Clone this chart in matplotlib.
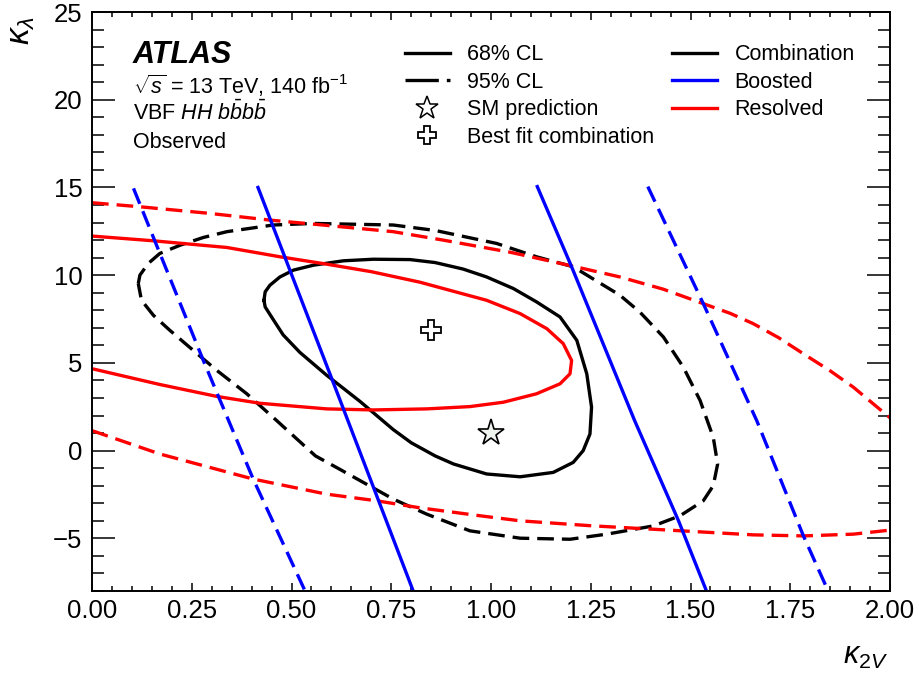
import matplotlib
matplotlib.use("Agg")
import matplotlib.pyplot as plt
from matplotlib.lines import Line2D
from matplotlib.ticker import MultipleLocator, FormatStrFormatter

plt.rcParams['font.family'] = ['Liberation Sans', 'DejaVu Sans']
plt.rcParams['mathtext.fontset'] = 'custom'
plt.rcParams['mathtext.rm'] = 'Liberation Sans'
plt.rcParams['mathtext.it'] = 'Liberation Sans:italic'
plt.rcParams['mathtext.bf'] = 'Liberation Sans:bold'

# combination 68% CL (closed contour)
comb68_k2v = [0.431, 0.434, 0.446, 0.471, 0.505, 0.555, 0.630, 0.705, 0.797, 0.860, 0.930, 0.989,
              1.056, 1.114, 1.173, 1.215, 1.240, 1.252, 1.248, 1.231, 1.206, 1.156, 1.073, 0.989,
              0.906, 0.860, 0.800, 0.755, 0.672, 0.588, 0.521, 0.479, 0.450, 0.434, 0.431]
comb68_kl = [8.57, 9.05, 9.43, 9.90, 10.29, 10.57, 10.82, 10.91, 10.89, 10.72, 10.35, 9.90,
             9.24, 8.48, 7.62, 6.29, 4.38, 2.48, 0.95, 0.00, -0.67, -1.24, -1.49, -1.33,
             -0.76, -0.30, 0.45, 1.20, 2.80, 4.30, 5.60, 6.60, 7.62, 8.19, 8.57]

# combination 95% CL (closed contour)
comb95_k2v = [0.116, 0.120, 0.141, 0.170, 0.221, 0.279, 0.338, 0.454, 0.555, 0.755, 0.860, 1.014,
              1.114, 1.206, 1.323, 1.373, 1.432, 1.482, 1.524, 1.557, 1.568, 1.557, 1.532, 1.474,
              1.407, 1.290, 1.198, 1.073, 0.947, 0.839, 0.755, 0.672, 0.620, 0.560, 0.463, 0.388,
              0.313, 0.254, 0.195, 0.154, 0.124, 0.116]
comb95_kl = [9.52, 10.00, 10.67, 11.24, 11.71, 12.15, 12.48, 12.86, 12.95, 12.86, 12.55, 11.81,
             11.05, 10.48, 8.86, 7.90, 6.48, 4.76, 2.86, 0.76, -0.76, -2.00, -2.86, -3.71,
             -4.29, -4.76, -5.05, -4.99, -4.57, -3.62, -2.76, -1.71, -1.05, -0.30, 1.71, 3.24,
             4.57, 5.71, 6.86, 7.71, 8.57, 9.52]

# resolved 68% CL (open at the left edge)
res68_k2v = [0.0, 0.154, 0.338, 0.471, 0.588, 0.700, 0.822, 0.989, 1.073, 1.140, 1.181, 1.202,
             1.198, 1.173, 1.114, 1.031, 0.947, 0.839, 0.705, 0.588, 0.421, 0.313, 0.170, 0.0]
res68_kl = [12.23, 11.96, 11.58, 11.05, 10.63, 10.20, 9.60, 8.57, 7.81, 6.95, 6.10, 5.14,
            4.38, 3.81, 3.24, 2.76, 2.51, 2.38, 2.32, 2.38, 2.70, 3.09, 3.77, 4.67]

# resolved 95% CL (two branches crossing the frame)
res95_up_k2v = [0.0, 0.120, 0.296, 0.446, 0.555, 0.755, 0.880, 1.050, 1.206, 1.323, 1.432, 1.532,
                1.600, 1.657, 1.720, 1.783, 1.850, 1.908, 2.0]
res95_up_kl = [14.13, 13.90, 13.52, 13.14, 12.91, 12.48, 12.00, 11.30, 10.51, 9.90, 9.20, 8.38,
               7.82, 7.24, 6.45, 5.52, 4.55, 3.62, 1.87]
res95_lo_k2v = [0.0, 0.170, 0.404, 0.588, 0.714, 0.822, 0.972, 1.073, 1.250, 1.407, 1.657, 1.783,
                1.908, 2.0]
res95_lo_kl = [1.14, -0.19, -1.62, -2.48, -2.86, -3.26, -3.71, -4.00, -4.28, -4.48, -4.80, -4.86,
               -4.76, -4.53]

# boosted 68% CL
boo68_l_k2v = [0.416, 0.622, 0.805]
boo68_l_kl = [15.0, 2.86, -8.0]
boo68_r_k2v = [1.116, 1.202, 1.360, 1.470, 1.540]
boo68_r_kl = [15.05, 10.48, 1.71, -4.00, -8.0]

# boosted 95% CL
boo95_l_k2v = [0.104, 0.279, 0.404, 0.534]
boo95_l_kl = [14.95, 5.14, -1.62, -8.0]
boo95_r_k2v = [1.393, 1.532, 1.666, 1.783, 1.845]
boo95_r_kl = [15.05, 8.38, 1.71, -4.86, -8.0]

sm_point = (1.0, 1.0)
best_fit = (0.85, 6.9)

fig = plt.figure(figsize=(9.2, 6.79), dpi=100)
ax = fig.add_axes([0.1, 0.1296, 0.8674, 0.8527])

lw = 2.4
dash = (5, 2.4)
ax.plot(comb68_k2v, comb68_kl, color='black', lw=lw, solid_joinstyle='round')
ax.plot(comb95_k2v, comb95_kl, color='black', lw=lw, dashes=dash)
ax.plot(res68_k2v, res68_kl, color='#ff0000', lw=lw, solid_joinstyle='round')
ax.plot(res95_up_k2v, res95_up_kl, color='#ff0000', lw=lw, dashes=dash)
ax.plot(res95_lo_k2v, res95_lo_kl, color='#ff0000', lw=lw, dashes=dash)
ax.plot(boo68_l_k2v, boo68_l_kl, color='#0000ff', lw=lw)
ax.plot(boo68_r_k2v, boo68_r_kl, color='#0000ff', lw=lw)
ax.plot(boo95_l_k2v, boo95_l_kl, color='#0000ff', lw=lw, dashes=dash)
ax.plot(boo95_r_k2v, boo95_r_kl, color='#0000ff', lw=lw, dashes=dash)

ax.plot(*sm_point, marker='*', ms=20, mfc='#eef3ee', mec='black', mew=1.2, ls='none')
ax.plot(*best_fit, marker='P', ms=14, mfc='white', mec='black', mew=1.3, ls='none')

ax.set_xlim(0, 2)
ax.set_ylim(-8, 25)
ax.xaxis.set_major_locator(MultipleLocator(0.25))
ax.xaxis.set_minor_locator(MultipleLocator(0.05))
ax.yaxis.set_major_locator(MultipleLocator(5))
ax.yaxis.set_minor_locator(MultipleLocator(1))
ax.xaxis.set_major_formatter(FormatStrFormatter('%.2f'))
ax.tick_params(axis='both', which='both', direction='in', top=True, right=True,
               labelsize=18.5, width=1.1)
ax.tick_params(axis='x', which='major', length=6, pad=6)
ax.tick_params(axis='x', which='minor', length=3.5)
ax.tick_params(axis='y', which='major', length=16.5, pad=7)
ax.tick_params(axis='y', which='minor', length=8.5)
for s in ax.spines.values():
    s.set_linewidth(1.4)

ax.text(0.9975, -0.126, r'$\kappa_{2V}$', transform=ax.transAxes, ha='right', va='baseline',
        fontsize=22)
ax.text(-0.088, 0.993, r'$\kappa_{\lambda}$', transform=ax.transAxes, ha='center', va='top',
        rotation=90, fontsize=24)

ax.text(0.0514, 0.912, 'ATLAS', transform=ax.transAxes, fontsize=22, fontweight='bold',
        fontstyle='italic', va='baseline')
ax.text(0.0514, 0.858, r'$\sqrt{s}$ = 13 TeV, 140 fb$^{-1}$', transform=ax.transAxes,
        fontsize=15.5, va='baseline')
ax.text(0.0514, 0.813, r'VBF $HH$ $b\bar{b}b\bar{b}$', transform=ax.transAxes,
        fontsize=15.5, va='baseline')
ax.text(0.0514, 0.766, 'Observed', transform=ax.transAxes, fontsize=15.5, va='baseline')

h_left = [
    Line2D([], [], color='black', lw=lw),
    Line2D([], [], color='black', lw=lw, dashes=(10, 2.4)),
    Line2D([], [], marker='*', ms=17, mfc='white', mec='black', mew=1.1, ls='none'),
    Line2D([], [], marker='P', ms=13, mfc='white', mec='black', mew=1.3, ls='none'),
]
l_left = ['68% CL', '95% CL', 'SM prediction', 'Best fit combination']
leg1 = ax.legend(h_left, l_left, loc='upper left', bbox_to_anchor=(0.392, 0.944),
                 frameon=False, fontsize=15.5, handlelength=2.1, handletextpad=0.8,
                 labelspacing=0.3, borderpad=0, borderaxespad=0)
ax.add_artist(leg1)

h_right = [
    Line2D([], [], color='black', lw=lw),
    Line2D([], [], color='#0000ff', lw=lw),
    Line2D([], [], color='#ff0000', lw=lw),
]
l_right = ['Combination', 'Boosted', 'Resolved']
ax.legend(h_right, l_right, loc='upper left', bbox_to_anchor=(0.727, 0.944),
          frameon=False, fontsize=15.5, handlelength=2.1, handletextpad=0.8,
          labelspacing=0.3, borderpad=0, borderaxespad=0)

fig.savefig('out.png', dpi=100)
